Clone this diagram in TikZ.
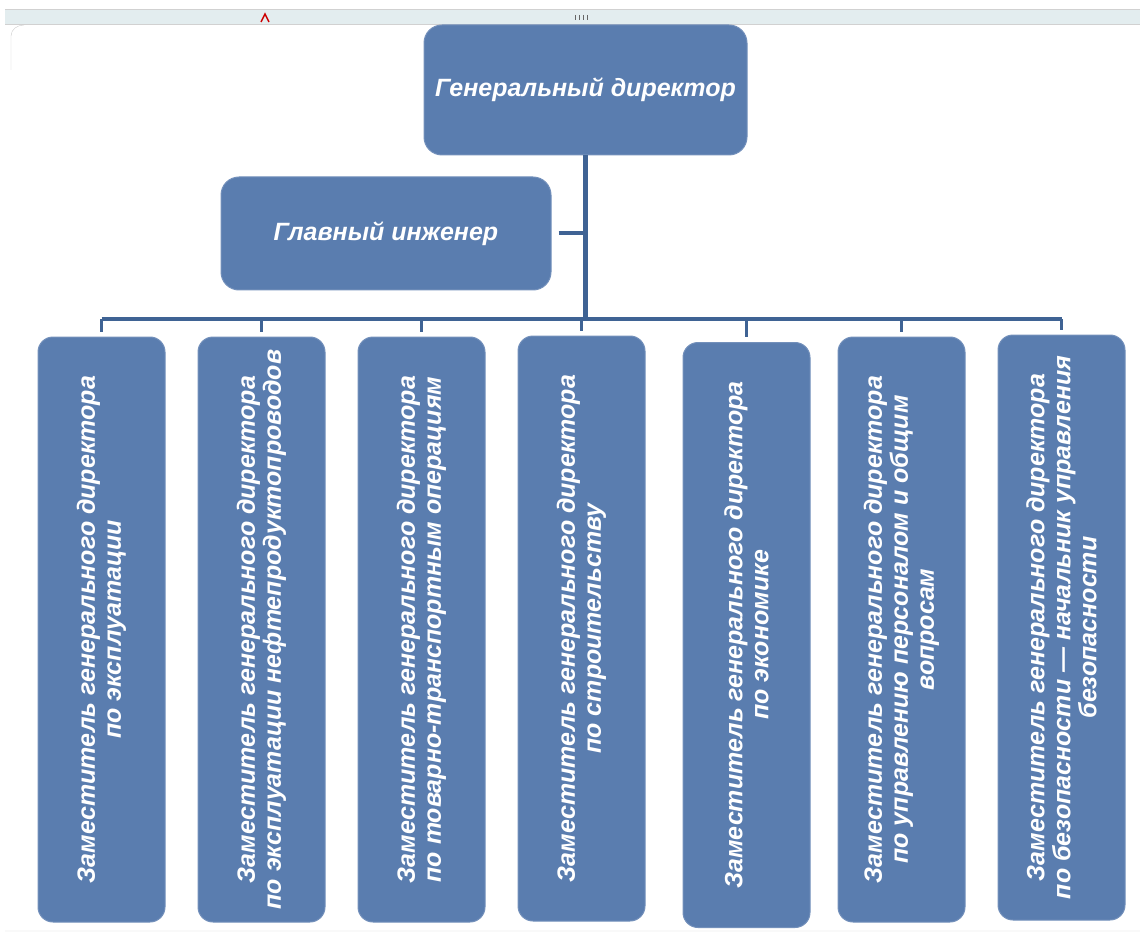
\documentclass[tikz,border=0pt]{standalone}
\usepackage{fontspec}
\setmainfont{Liberation Sans}
\usetikzlibrary{positioning}
\definecolor{boxblue}{HTML}{5A7DAF}
\definecolor{lineblue}{HTML}{3F6394}
\definecolor{barcol}{HTML}{E3EDEF}
\begin{document}
\begin{tikzpicture}[x=1pt,y=-1pt,
		box/.style={fill=boxblue,draw=boxblue!85!white,line width=1pt,rounded corners=18pt,text=white,
			font=\fontsize{25}{26}\selectfont\bfseries\itshape,align=center},
		post/.style={box,rotate=90,minimum width=585pt,minimum height=127pt,rounded corners=15pt},
		link/.style={lineblue,line width=4pt},
		tick/.style={lineblue,line width=3pt,shorten >=5pt}]
		\useasboundingbox (0,0) rectangle (1140,933);
		\fill[barcol] (5,9) rectangle (1140,24);
		\draw[black!18] (5,9) -- (1140,9) (5,24) -- (1140,24);
		\draw[black!20] (11,70) -- (11,36) to[out=90,in=180] (24,25) (5,931) -- (1140,931);
		\draw[red!80!black,line width=1.5pt] (261,22) -- (265,14) -- (269,22);
		\foreach \k in {0,...,3}
		\draw[black!60,line width=1pt] ({575+4*\k},15) -- ({575+4*\k},20);
		\node[box,minimum width=323pt,minimum height=130pt] (gd) at (585.5,90) {Генеральный директор};
		\node[box,minimum width=330pt,minimum height=113pt] (gi) at (386,233.5) {Главный инженер};
		\foreach \n/\x/\y/\t in {
			1/101.5/629.5/{Заместитель генерального директора\\по эксплуатации},
			2/261.5/629.5/{Заместитель генерального директора\\по эксплуатации нефтепродуктопроводов},
			3/421.5/629.5/{Заместитель генерального директора\\по товарно-транспортным операциям},
			4/581.5/628.5/{Заместитель генерального директора\\по строительству},
			5/746.5/635/{Заместитель генерального директора\\по экономике},
			6/901.5/629.5/{Заместитель генерального директора\\по управлению персоналом и общим\\вопросам},
			7/1061.5/627.5/{Заместитель генерального директора\\по безопасности — начальник управления\\безопасности}}
		\node[post] (z\n) at (\x,\y) {\t};
		\coordinate (bus) at (585.5,319);
		\draw[link,line width=5pt] (gd) -- (gd |- bus);
		\draw[link] (gi) -- (gi -| gd) [shorten <=7pt];
		\draw[link] (z1 |- bus) -- (z7 |- bus);
		\foreach \i in {1,...,7}
		\draw[tick] (z\i |- bus) -- (z\i);
	\end{tikzpicture}
\end{document}
